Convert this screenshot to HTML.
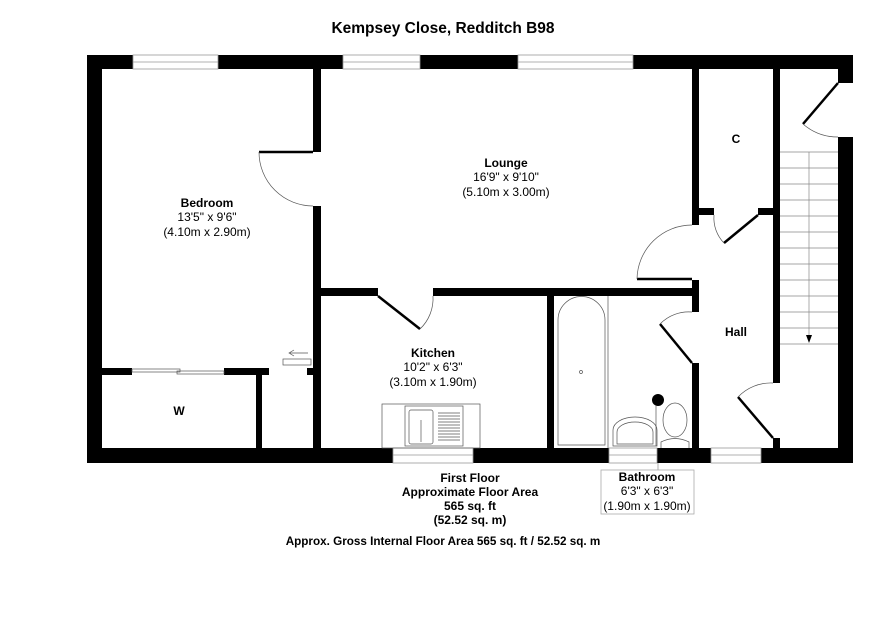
<!DOCTYPE html>
<html><head><meta charset="utf-8"><style>
html,body{margin:0;padding:0;background:#fff}
svg{display:block}
text{font-family:"Liberation Sans",Arial,sans-serif;fill:#000}
.b{font-weight:bold}
</style></head><body>
<svg width="886" height="626" viewBox="0 0 886 626" xmlns="http://www.w3.org/2000/svg">
<text x="443" y="33" text-anchor="middle" class="b" font-size="15.5">Kempsey Close, Redditch B98</text>
<g fill="#000">
<rect x="87" y="55" width="766" height="14"/>
<rect x="87" y="55" width="15" height="408"/>
<rect x="87" y="448" width="766" height="15"/>
<rect x="838" y="55" width="15" height="28"/>
<rect x="838" y="137" width="15" height="326"/>
<rect x="313" y="69" width="8" height="83"/>
<rect x="313" y="206" width="8" height="242"/>
<rect x="321" y="288" width="57" height="8"/>
<rect x="433" y="288" width="266" height="8"/>
<rect x="692" y="69" width="7" height="156"/>
<rect x="692" y="280" width="7" height="32"/>
<rect x="692" y="363" width="7" height="85"/>
<rect x="773" y="69" width="7" height="314"/>
<rect x="773" y="438" width="7" height="10"/>
<rect x="699" y="208" width="15" height="7"/>
<rect x="758" y="208" width="15" height="7"/>
<rect x="547" y="296" width="7" height="152"/>
<rect x="102" y="368" width="30" height="7"/>
<rect x="224" y="368" width="45" height="7"/>
<rect x="256" y="375" width="6" height="73"/>
<rect x="307" y="368" width="6" height="7"/>
</g>
<g fill="#fff" stroke="#999" stroke-width="0.8">
<rect x="133" y="55" width="85" height="14"/>
<rect x="343" y="55" width="77" height="14"/>
<rect x="518" y="55" width="115" height="14"/>
<rect x="393" y="448" width="80" height="15"/>
<rect x="609" y="448" width="48" height="15"/>
<rect x="711" y="448" width="50" height="15"/>
</g>
<g stroke="#999" stroke-width="0.8">
<line x1="133" y1="62" x2="218" y2="62"/><line x1="343" y1="62" x2="420" y2="62"/><line x1="518" y1="62" x2="633" y2="62"/>
<line x1="393" y1="455" x2="473" y2="455"/><line x1="609" y1="455" x2="657" y2="455"/><line x1="711" y1="455" x2="761" y2="455"/>
</g>
<g stroke="#000" stroke-width="2.5" fill="none">
<line x1="259" y1="152" x2="313" y2="152"/>
<line x1="378" y1="296" x2="420" y2="329"/>
<line x1="637" y1="279" x2="692" y2="279"/>
<line x1="692" y1="363" x2="660" y2="324"/>
<line x1="758" y1="215" x2="724" y2="243"/>
<line x1="773" y1="438" x2="738" y2="397"/>
<line x1="838" y1="83" x2="803" y2="124"/>
</g>
<g stroke="#555" stroke-width="0.7" fill="none">
<path d="M259,152 A54,54 0 0 0 313,206"/>
<path d="M420,329 A42,42 0 0 0 433,296"/>
<path d="M637,279 A55,55 0 0 1 692,225"/>
<path d="M660,324 A40,40 0 0 1 692,312"/>
<path d="M724,243 A36,36 0 0 1 714,215"/>
<path d="M738,397 A45,45 0 0 1 773,383"/>
<path d="M803,124 A53,53 0 0 0 838,137"/>
<rect x="132" y="369" width="48" height="3"/><rect x="177" y="371" width="47" height="3"/>
<rect x="283" y="359" width="28" height="6"/>
<path d="M308,353 H290 M294,350 L289,353 L294,356"/>
<g stroke="#888">
<line x1="780" y1="152" x2="838" y2="152"/><line x1="780" y1="168" x2="838" y2="168"/><line x1="780" y1="184" x2="838" y2="184"/><line x1="780" y1="200" x2="838" y2="200"/><line x1="780" y1="216" x2="838" y2="216"/><line x1="780" y1="232" x2="838" y2="232"/><line x1="780" y1="248" x2="838" y2="248"/><line x1="780" y1="264" x2="838" y2="264"/><line x1="780" y1="280" x2="838" y2="280"/><line x1="780" y1="296" x2="838" y2="296"/><line x1="780" y1="312" x2="838" y2="312"/><line x1="780" y1="328" x2="838" y2="328"/><line x1="780" y1="344" x2="838" y2="344"/>
<line x1="809" y1="152" x2="809" y2="340"/>
</g>
<rect x="382" y="404" width="98" height="44"/>
<rect x="405" y="406" width="58" height="40"/>
<rect x="409" y="410" width="24" height="34" rx="2"/>
<path d="M438,413H460M438,416H460M438,419H460M438,422H460M438,425H460M438,428H460M438,431H460M438,434H460M438,437H460M438,440H460"/>
<line x1="421" y1="420" x2="421" y2="442"/>
<line x1="608" y1="296" x2="608" y2="448"/>
<path d="M558,445 V320 A23.5,23.5 0 0 1 605,320 V445 Z"/>
<circle cx="581" cy="372" r="1.5"/>
<path d="M613,446 V430 A22,13 0 0 1 657,430 V446 Z"/>
<path d="M617,444 V432 A18,10 0 0 1 653,432 V444 Z"/>
<ellipse cx="675" cy="420" rx="12" ry="17"/>
<path d="M661,448 V442 Q675,435 689,442 V448"/>
<line x1="656" y1="406" x2="656" y2="446"/>
</g>
<circle cx="658" cy="400" r="6" fill="#000"/>
<path d="M806,335 L812,335 L809,343 Z" fill="#000"/>
<line x1="658" y1="463" x2="658" y2="470" stroke="#999" stroke-width="0.8"/>
<rect x="601" y="470" width="93" height="44" fill="#fff" stroke="#aaa" stroke-width="0.8"/>
<g font-size="12" text-anchor="middle">
<text x="207" y="207" class="b">Bedroom</text>
<text x="207" y="221">13'5" x 9'6"</text>
<text x="207" y="236">(4.10m x 2.90m)</text>
<text x="506" y="167" class="b">Lounge</text>
<text x="506" y="181">16'9" x 9'10"</text>
<text x="506" y="196">(5.10m x 3.00m)</text>
<text x="433" y="357" class="b">Kitchen</text>
<text x="433" y="371">10'2" x 6'3"</text>
<text x="433" y="386">(3.10m x 1.90m)</text>
<text x="736" y="143" class="b">C</text>
<text x="736" y="336" class="b">Hall</text>
<text x="179" y="415" class="b">W</text>
<text x="647" y="481" class="b">Bathroom</text>
<text x="647" y="495">6'3" x 6'3"</text>
<text x="647" y="510">(1.90m x 1.90m)</text>
<text x="470" y="482" class="b">First Floor</text>
<text x="470" y="496" class="b">Approximate Floor Area</text>
<text x="470" y="510" class="b">565 sq. ft</text>
<text x="470" y="524" class="b">(52.52 sq. m)</text>
<text x="443" y="545" class="b" font-size="11.7">Approx. Gross Internal Floor Area 565 sq. ft / 52.52 sq. m</text>
</g>
</svg>
</body></html>
